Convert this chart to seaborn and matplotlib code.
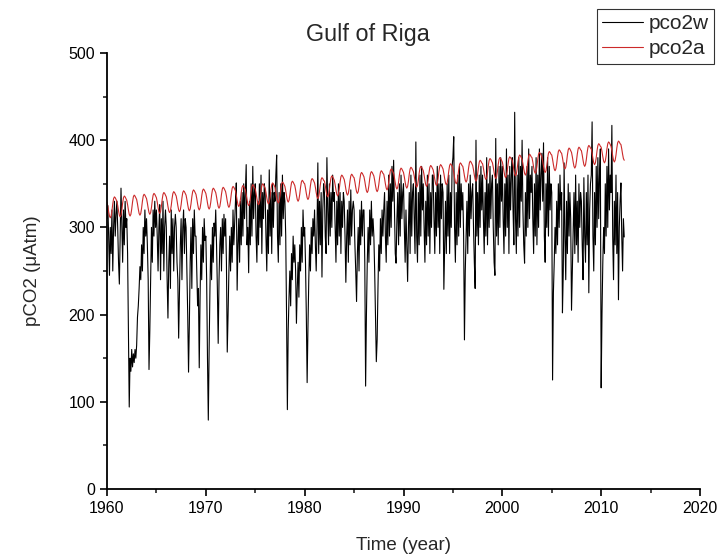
import numpy as np
import pandas as pd
import matplotlib
matplotlib.use("Agg")
import matplotlib.pyplot as plt
from matplotlib.ticker import MultipleLocator
from matplotlib.lines import Line2D
import seaborn as sns

# ---- data (monthly values) ----
start_year = 1960
series_names = ["pco2w", "pco2a"]
x_ticks = [1960, 1970, 1980, 1990, 2000, 2010, 2020]
y_ticks = [0, 100, 200, 300, 400, 500]

pco2w_1960s = [
    310, 325, 290, 245, 300, 270, 320, 250, 300, 330, 290, 315,
    330, 300, 260, 235, 290, 345, 300, 260, 320, 280, 330, 300,
    310, 270, 180, 94, 150, 135, 160, 140, 155, 145, 160, 150,
    165, 197, 210, 230, 255, 240, 280, 250, 300, 270, 320, 290,
    310, 280, 240, 137, 182, 240, 300, 260, 320, 290, 330, 300,
    320, 290, 250, 300, 326, 240, 310, 270, 330, 250, 300, 320,
    300, 240, 196, 260, 290, 230, 320, 270, 310, 250, 300, 315,
    300, 260, 240, 173, 230, 280, 310, 240, 300, 320, 270, 310,
    300, 250, 200, 134, 190, 260, 300, 230, 310, 270, 320, 290,
    290, 250, 210, 230, 139, 220, 280, 240, 300, 260, 310, 285,
]
pco2w_1970s = [
    290, 240, 150, 79, 160, 230, 280, 240, 300, 260, 305, 290,
    320, 280, 230, 167, 240, 280, 300, 250, 310, 270, 315, 290,
    310, 260, 157, 200, 250, 290, 250, 300, 260, 320, 280, 305,
    330, 351, 228, 280, 310, 260, 330, 280, 340, 290, 350, 310,
    340, 372, 280, 300, 248, 330, 280, 350, 290, 370, 310, 340,
    350, 290, 260, 330, 280, 350, 300, 360, 270, 340, 310, 350,
    340, 290, 250, 320, 270, 366, 290, 340, 270, 350, 300, 340,
    330, 360, 383, 290, 260, 340, 280, 350, 290, 360, 310, 340,
    330, 290, 200, 91, 182, 220, 250, 210, 270, 240, 290, 260,
    280, 250, 190, 230, 260, 220, 280, 250, 300, 260, 320, 290,
]
pco2w_1980s = [
    300, 260, 200, 122, 186, 240, 280, 250, 300, 270, 310, 290,
    320, 280, 250, 300, 374, 270, 330, 280, 340, 243, 320, 350,
    340, 290, 270, 380, 320, 280, 350, 290, 340, 300, 360, 330,
    340, 300, 260, 330, 280, 350, 290, 340, 270, 330, 300, 340,
    330, 290, 237, 290, 320, 260, 330, 280, 343, 290, 320, 330,
    320, 280, 250, 215, 270, 300, 250, 320, 280, 330, 290, 320,
    320, 260, 118, 200, 260, 300, 260, 320, 280, 330, 290, 310,
    290, 250, 200, 146, 171, 230, 280, 250, 310, 270, 320, 290,
    320, 340, 290, 260, 330, 280, 360, 290, 350, 300, 370, 330,
    377, 320, 270, 259, 310, 340, 280, 350, 290, 360, 310, 340,
]
pco2w_1990s = [
    350, 300, 260, 320, 280, 238, 300, 340, 270, 360, 290, 340,
    350, 310, 270, 398, 290, 260, 340, 280, 360, 290, 370, 320,
    350, 300, 260, 330, 280, 360, 290, 350, 270, 340, 300, 360,
    360, 310, 270, 340, 290, 370, 300, 350, 270, 360, 310, 350,
    340, 229, 280, 330, 270, 350, 290, 360, 270, 340, 300, 370,
    380, 404, 300, 260, 340, 280, 360, 290, 370, 300, 350, 320,
    340, 290, 171, 250, 290, 330, 270, 350, 290, 360, 310, 340,
    350, 300, 260, 230, 400, 290, 340, 280, 360, 300, 370, 320,
    360, 310, 270, 340, 290, 380, 280, 350, 300, 370, 310, 350,
    360, 300, 260, 245, 402, 290, 350, 280, 370, 300, 380, 330,
]
pco2w_2000s = [
    370, 310, 270, 350, 290, 390, 300, 360, 270, 370, 320, 360,
    380, 320, 280, 432, 310, 270, 360, 290, 380, 300, 370, 330,
    400, 320, 280, 259, 340, 290, 370, 300, 390, 310, 360, 340,
    370, 310, 270, 350, 290, 380, 280, 360, 300, 390, 320, 360,
    385, 330, 397, 290, 260, 350, 300, 380, 290, 370, 320, 350,
    340, 125, 225, 260, 300, 270, 330, 280, 350, 300, 360, 320,
    340, 202, 250, 374, 290, 240, 330, 270, 350, 290, 340, 310,
    205, 250, 300, 340, 270, 360, 280, 330, 260, 350, 300, 340,
    330, 280, 240, 357, 290, 260, 340, 280, 360, 225, 320, 350,
    360, 421, 290, 250, 340, 280, 370, 300, 380, 310, 360, 390,
]
pco2w_2010s = [
    116, 201, 260, 300, 270, 350, 290, 370, 300, 390, 320, 360,
    340, 417, 290, 240, 330, 280, 360, 270, 340, 217, 300, 330,
    351, 290, 250, 310, 289,
]

pco2a_1960s = [
    329, 324, 318, 313, 311, 313, 319, 327, 333, 335, 334, 332,
    330, 325, 319, 314, 312, 314, 320, 328, 334, 336, 335, 333,
    331, 326, 320, 315, 313, 315, 321, 329, 335, 337, 336, 334,
    332, 327, 321, 316, 314, 316, 322, 330, 336, 338, 337, 335,
    333, 328, 322, 317, 315, 317, 323, 331, 337, 339, 338, 336,
    334, 329, 323, 318, 316, 318, 324, 332, 338, 340, 339, 337,
    335, 330, 324, 319, 317, 319, 325, 333, 339, 341, 340, 338,
    336, 331, 325, 320, 318, 320, 326, 334, 340, 342, 341, 339,
    337, 332, 326, 321, 319, 321, 327, 335, 341, 343, 342, 340,
    338, 333, 327, 322, 320, 322, 328, 336, 342, 344, 343, 341,
]
pco2a_1970s = [
    339, 334, 328, 323, 321, 323, 329, 337, 343, 345, 344, 342,
    340, 335, 329, 324, 322, 324, 330, 338, 344, 346, 345, 343,
    341, 336, 330, 325, 323, 325, 331, 339, 345, 347, 346, 344,
    342, 337, 331, 326, 324, 326, 332, 340, 346, 348, 347, 345,
    343, 338, 332, 327, 325, 327, 333, 341, 347, 349, 348, 346,
    344, 339, 333, 328, 326, 328, 334, 342, 348, 350, 349, 347,
    345, 340, 334, 329, 327, 329, 335, 343, 349, 351, 350, 348,
    346, 341, 335, 330, 328, 330, 336, 344, 350, 352, 351, 349,
    347, 342, 336, 331, 329, 331, 337, 345, 351, 353, 352, 350,
    348, 343, 337, 332, 330, 332, 338, 346, 352, 354, 353, 351,
]
pco2a_1980s = [
    350, 345, 339, 334, 332, 334, 340, 348, 354, 356, 355, 353,
    351, 346, 340, 335, 333, 335, 341, 349, 355, 357, 356, 354,
    353, 348, 342, 337, 335, 337, 343, 351, 357, 359, 358, 356,
    354, 349, 343, 338, 336, 338, 344, 352, 358, 360, 359, 357,
    355, 350, 344, 339, 337, 339, 345, 353, 359, 361, 360, 358,
    357, 352, 346, 341, 339, 341, 347, 355, 361, 363, 362, 360,
    358, 353, 347, 342, 340, 342, 348, 356, 362, 364, 363, 361,
    359, 354, 348, 343, 341, 343, 349, 357, 363, 365, 364, 362,
    361, 356, 350, 345, 343, 345, 351, 359, 365, 367, 366, 364,
    362, 357, 351, 346, 344, 346, 352, 360, 366, 368, 367, 365,
]
pco2a_1990s = [
    363, 358, 352, 347, 345, 347, 353, 361, 367, 369, 368, 366,
    364, 359, 353, 348, 346, 348, 354, 362, 368, 370, 369, 367,
    365, 360, 354, 349, 347, 349, 355, 363, 369, 371, 370, 368,
    366, 361, 355, 350, 348, 350, 356, 364, 370, 372, 371, 369,
    367, 362, 356, 351, 349, 351, 357, 365, 371, 373, 372, 370,
    368, 363, 357, 352, 350, 352, 358, 366, 372, 374, 373, 371,
    370, 365, 359, 354, 352, 354, 360, 368, 374, 376, 375, 373,
    371, 366, 360, 355, 353, 355, 361, 369, 375, 377, 376, 374,
    373, 368, 362, 357, 355, 357, 363, 371, 377, 379, 378, 376,
    374, 369, 363, 358, 356, 358, 364, 372, 378, 380, 379, 377,
]
pco2a_2000s = [
    375, 370, 364, 359, 357, 359, 365, 373, 379, 381, 380, 378,
    377, 372, 366, 361, 359, 361, 367, 375, 381, 383, 382, 380,
    378, 373, 367, 362, 360, 362, 368, 376, 382, 384, 383, 381,
    380, 375, 369, 364, 362, 364, 370, 378, 384, 386, 385, 383,
    381, 376, 370, 365, 363, 365, 371, 379, 385, 387, 386, 384,
    383, 378, 372, 367, 365, 367, 373, 381, 387, 389, 388, 386,
    385, 380, 374, 369, 367, 369, 375, 383, 389, 391, 390, 388,
    386, 381, 375, 370, 368, 370, 376, 384, 390, 392, 391, 389,
    388, 383, 377, 372, 370, 372, 378, 386, 392, 394, 393, 391,
    390, 385, 379, 374, 372, 374, 380, 388, 394, 396, 395, 393,
]
pco2a_2010s = [
    392, 387, 381, 376, 374, 376, 382, 390, 396, 398, 397, 395,
    393, 388, 382, 377, 375, 377, 383, 391, 397, 399, 398, 396,
    395, 390, 384, 379, 377,
]

pco2w = (pco2w_1960s + pco2w_1970s + pco2w_1980s + pco2w_1990s
         + pco2w_2000s + pco2w_2010s)
pco2a = (pco2a_1960s + pco2a_1970s + pco2a_1980s + pco2a_1990s
         + pco2a_2000s + pco2a_2010s)
time = start_year + np.arange(len(pco2w)) / 12.0

df = pd.DataFrame({"time": np.concatenate([time, time]),
                   "value": pco2w + pco2a,
                   "series": [series_names[0]] * len(pco2w) + [series_names[1]] * len(pco2a)})

# ---- plotting ----
sns.set_style("ticks")
plt.rcParams["font.family"] = ["Liberation Sans", "DejaVu Sans"]

fig = plt.figure(figsize=(7.17, 5.57), dpi=100)
ax = fig.add_axes([107 / 717, 1 - 489 / 557, (700 - 107) / 717, (489 - 53) / 557])

colors = {"pco2w": "#000000", "pco2a": "#cc2a2a"}
sns.lineplot(data=df, x="time", y="value", hue="series", palette=colors,
             linewidth=0.8, ax=ax, legend=False, estimator=None, sort=False)

ax.set_xlim(1960, 2020)
ax.set_ylim(0, 500)
ax.set_xticks(x_ticks)
ax.set_yticks(y_ticks)
ax.xaxis.set_minor_locator(MultipleLocator(5))
ax.yaxis.set_minor_locator(MultipleLocator(50))
ax.tick_params(which="major", direction="out", length=5, width=1.2, labelsize=11.5, colors="black")
ax.tick_params(which="minor", direction="out", length=3, width=1.2)
for s in ["top", "right"]:
    ax.spines[s].set_visible(False)
for s in ["left", "bottom"]:
    ax.spines[s].set_linewidth(1.3)
    ax.spines[s].set_color("black")

ax.set_xlabel("Time (year)", fontsize=13.5, labelpad=15)
ax.set_ylabel("pCO2 (\u03bcAtm)", fontsize=13.5, labelpad=20)
fig.text(368 / 717, 1 - 35 / 557, "Gulf of Riga", fontsize=16.8,
         ha="center", va="center")

handles = [Line2D([], [], color=colors["pco2w"], lw=0.8),
           Line2D([], [], color=colors["pco2a"], lw=0.8)]
leg = fig.legend(handles, series_names, loc="upper right",
                 bbox_to_anchor=(714 / 717, 1 - 9 / 557), fontsize=15,
                 frameon=True, fancybox=False, handlelength=2.0,
                 borderpad=0.25, labelspacing=0.3, handletextpad=0.25,
                 borderaxespad=0.0)
leg.get_frame().set_edgecolor("black")
leg.get_frame().set_linewidth(0.8)

fig.savefig("out.png", dpi=100)
